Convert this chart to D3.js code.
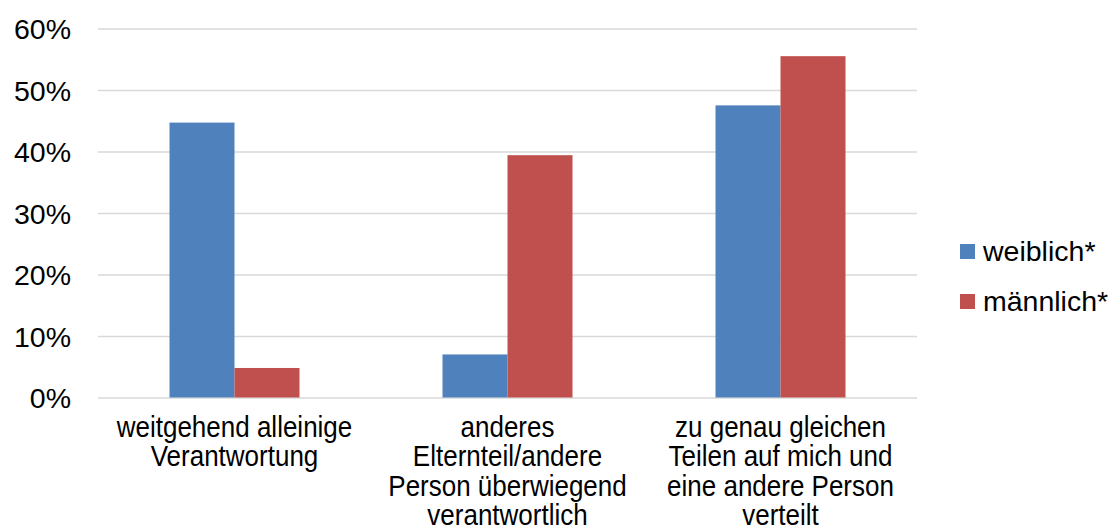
<!DOCTYPE html>
<html>
<head>
<meta charset="utf-8">
<script src="https://cdn.jsdelivr.net/npm/d3@7"></script>
<style>
  body { margin: 0; background: #fff; }
  svg text { font-family: "Liberation Sans", Arial, sans-serif; fill: #000; }
</style>
</head>
<body>
<svg id="chart"></svg>
<script>
const categories = [
  ["weitgehend alleinige", "Verantwortung"],
  ["anderes", "Elternteil/andere", "Person überwiegend", "verantwortlich"],
  ["zu genau gleichen", "Teilen auf mich und", "eine andere Person", "verteilt"]
];
const seriesNames = ["weiblich*", "männlich*"];
const weiblich = [44.7, 7.0, 47.5];
const maennlich = [4.8, 39.4, 55.5];
const yTicks = [0, 10, 20, 30, 40, 50, 60];
const colors = ["#4f81bd", "#c0504d"];

const width = 1112, height = 531;
const margin = {top: 28.5, right: 195, bottom: 133.5, left: 98};

const svg = d3.select("#chart")
  .attr("width", width)
  .attr("height", height);

const keys = categories.map((c, i) => i);
const values = [weiblich, maennlich];

const x0 = d3.scaleBand()
  .domain(keys)
  .range([margin.left, width - margin.right])
  .padding(0);

const x1 = d3.scaleBand()
  .domain(seriesNames)
  .range([0, x0.bandwidth()])
  .paddingInner(0)
  .paddingOuter(1.1);

const y = d3.scaleLinear()
  .domain([0, 60])
  .range([height - margin.bottom, margin.top]);

// grid lines
const grid = svg.append("g")
  .attr("transform", `translate(${margin.left},0)`)
  .call(d3.axisLeft(y)
    .tickValues(yTicks)
    .tickSizeInner(-(width - margin.left - margin.right))
    .tickSizeOuter(0)
    .tickFormat(""));
grid.select(".domain").remove();
grid.selectAll("line").attr("stroke", "#d9d9d9").attr("stroke-width", 1.3);

// y tick labels
const yaxis = svg.append("g")
  .attr("transform", `translate(${margin.left},0)`)
  .call(d3.axisLeft(y)
    .tickValues(yTicks)
    .tickSize(0)
    .tickPadding(27)
    .tickFormat(d => d + "%"));
yaxis.select(".domain").remove();
yaxis.selectAll("text")
  .attr("font-size", 28.5)
  .attr("font-family", "Liberation Sans, Arial, sans-serif")
  .attr("dy", "0.36em");

// bars
const groups = svg.append("g")
  .selectAll("g")
  .data(keys)
  .join("g")
  .attr("transform", k => `translate(${x0(k)},0)`);

groups.selectAll("rect")
  .data(k => seriesNames.map((s, j) => ({s, j, v: values[j][k]})))
  .join("rect")
  .attr("x", d => x1(d.s))
  .attr("width", x1.bandwidth())
  .attr("y", d => y(d.v))
  .attr("height", d => y(0) - y(d.v))
  .attr("fill", d => colors[d.j]);

// category labels (slightly stretched vertically, like the original)
const stretch = 1.12;
const labels = svg.append("g")
  .selectAll("text")
  .data(keys)
  .join("text")
  .attr("transform", k => `translate(${x0(k) + x0.bandwidth() / 2},437) scale(1,${stretch})`)
  .attr("text-anchor", "middle")
  .attr("font-size", 26);

labels.selectAll("tspan")
  .data(k => categories[k])
  .join("tspan")
  .attr("x", 0)
  .attr("dy", (d, i) => i === 0 ? 0 : 29.5 / stretch)
  .text(d => d);

// legend
const legend = svg.append("g")
  .selectAll("g")
  .data(seriesNames)
  .join("g")
  .attr("transform", (d, i) => `translate(960,${244 + i * 50})`);

legend.append("rect")
  .attr("width", 15)
  .attr("height", 15)
  .attr("fill", (d, i) => colors[i]);

legend.append("text")
  .attr("x", 23)
  .attr("y", 17)
  .attr("font-size", 28.5)
  .text(d => d);
</script>
</body>
</html>
